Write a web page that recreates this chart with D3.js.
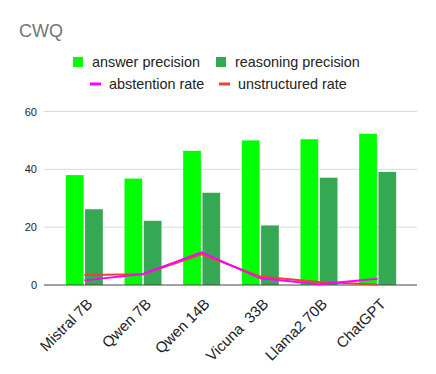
<!DOCTYPE html>
<html lang="en">
<head>
    <meta charset="UTF-8">
    <title>CWQ</title>
    <script src="https://d3js.org/d3.v7.min.js"></script>
    <style>
        body { margin: 0; background: #fff; }
        svg { font-family: Arial, "Liberation Sans", sans-serif; }
    </style>
</head>
<body>
    <svg id="chart" width="436" height="374"></svg>

    <script>
        const categories = ['Mistral 7B', 'Qwen 7B', 'Qwen 14B', 'Vicuna  33B', 'Llama2 70B', 'ChatGPT'];
        const answerPrecision = [38.0, 36.8, 46.4, 50.0, 50.4, 52.3];
        const reasoningPrecision = [26.2, 22.2, 31.9, 20.6, 37.1, 39.1];
        const abstentionRate = [1.6, 3.8, 11.3, 2.3, 0.3, 2.2];
        const unstructuredRate = [3.5, 3.7, 10.6, 2.9, 1.0, 0.2];
        const yTicks = [0, 20, 40, 60];

        const barSeries = [
            { name: 'answer precision', values: answerPrecision, color: '#00ff00' },
            { name: 'reasoning precision', values: reasoningPrecision, color: '#34a853' }
        ];
        const lineSeries = [
            { name: 'unstructured rate', values: unstructuredRate, color: '#ea4335' },
            { name: 'abstention rate', values: abstentionRate, color: '#ff00ff' }
        ];

        const svg = d3.select('#chart');

        const x = d3.scaleBand()
            .domain(categories)
            .range([55, 407]);

        const x1 = d3.scaleBand()
            .domain([0, 1])
            .range([x.bandwidth() / 2 - 18.5, x.bandwidth() / 2 + 18.5])
            .paddingInner(0.08);

        const y = d3.scaleLinear()
            .domain([0, 60])
            .range([285, 111.5]);

        // title
        svg.append('text')
            .attr('x', 19)
            .attr('y', 37)
            .attr('fill', '#757575')
            .style('font-size', '18px')
            .text('CWQ');

        // gridlines
        svg.append('g')
            .selectAll('line')
            .data(yTicks.filter(d => d > 0))
            .join('line')
            .attr('x1', 44)
            .attr('x2', 417)
            .attr('y1', d => y(d))
            .attr('y2', d => y(d))
            .attr('stroke', '#d9d9d9')
            .attr('stroke-width', 1);

        // y axis labels
        svg.append('g')
            .selectAll('text')
            .data(yTicks)
            .join('text')
            .attr('x', 37)
            .attr('y', d => y(d) + 4)
            .attr('text-anchor', 'end')
            .attr('fill', '#222')
            .style('font-size', '11px')
            .text(d => d);

        // bars
        const groups = svg.append('g')
            .selectAll('g')
            .data(barSeries)
            .join('g')
            .attr('fill', d => d.color);

        groups.selectAll('rect')
            .data((d, i) => d.values.map((v, j) => ({ v: v, j: j, s: i })))
            .join('rect')
            .attr('x', d => x(categories[d.j]) + x1(d.s))
            .attr('width', x1.bandwidth())
            .attr('y', d => y(d.v))
            .attr('height', d => y(0) - y(d.v));

        // baseline
        svg.append('line')
            .attr('x1', 44)
            .attr('x2', 417)
            .attr('y1', y(0))
            .attr('y2', y(0))
            .attr('stroke', '#444')
            .attr('stroke-width', 1);

        // lines
        const line = d3.line()
            .x((d, i) => x(categories[i]) + x.bandwidth() / 2)
            .y(d => y(d));

        svg.append('g')
            .selectAll('path')
            .data(lineSeries)
            .join('path')
            .attr('d', d => line(d.values))
            .attr('fill', 'none')
            .attr('stroke', d => d.color)
            .attr('stroke-width', 2);

        // x axis labels
        svg.append('g')
            .selectAll('text')
            .data(categories)
            .join('text')
            .attr('text-anchor', 'end')
            .attr('transform', d => 'translate(' + (x(d) + x.bandwidth() / 2 + 9) + ',' + 305 + ') rotate(-45)')
            .attr('fill', '#222')
            .style('font-size', '15px')
            .style('white-space', 'pre')
            .text(d => d);

        // legend
        const legend = svg.append('g').style('font-size', '14.4px').attr('fill', '#222');
        const legendItems = [
            { name: 'answer precision', color: '#00ff00', type: 'rect', x: 73, y: 62 },
            { name: 'reasoning precision', color: '#34a853', type: 'rect', x: 216, y: 62 },
            { name: 'abstention rate', color: '#ff00ff', type: 'line', x: 90, y: 84 },
            { name: 'unstructured rate', color: '#ea4335', type: 'line', x: 219, y: 84 }
        ];
        legendItems.forEach(d => {
            if (d.type === 'rect') {
                legend.append('rect')
                    .attr('x', d.x).attr('y', d.y - 5)
                    .attr('width', 10).attr('height', 10)
                    .attr('fill', d.color);
            } else {
                legend.append('rect')
                    .attr('x', d.x).attr('y', d.y - 1.5)
                    .attr('width', 11).attr('height', 3)
                    .attr('fill', d.color);
            }
            legend.append('text')
                .attr('x', d.x + 19)
                .attr('y', d.y + 5)
                .text(d.name);
        });
    </script>
</body>
</html>
